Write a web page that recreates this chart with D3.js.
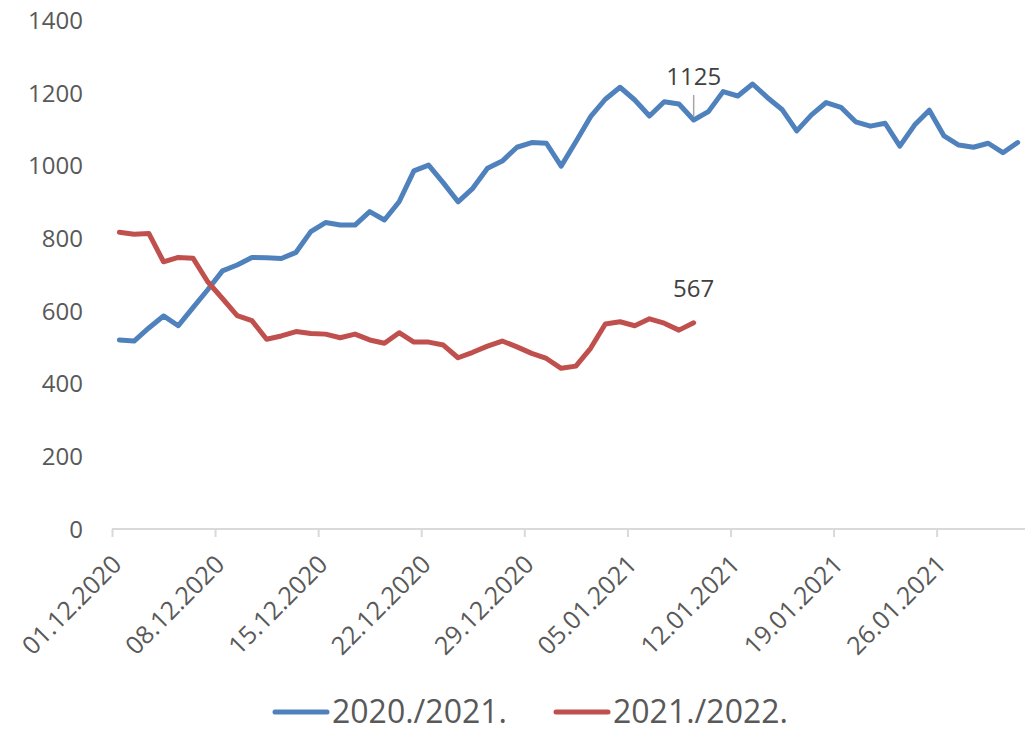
<!DOCTYPE html>
<html>
<head>
<meta charset="utf-8">
<script src="https://cdn.jsdelivr.net/npm/d3@7"></script>
<style>
  html, body { margin: 0; padding: 0; background: #ffffff; }
  svg { display: block; font-family: "Open Sans", "Noto Sans", sans-serif; }
</style>
</head>
<body>
<svg id="chart" width="1026" height="731"></svg>
<script>
// ---- data ----
const startDate = "2020-12-01";
const dayCount = 62; // 01.12.2020 .. 31.01.2021
const series2020 = [520, 517, 553, 586, 559, 609, 658, 710, 726, 747, 746, 744, 761, 818, 843, 836, 836, 873, 850, 900,
  985, 1001, 952, 900, 937, 992, 1012, 1050, 1063, 1061, 998, 1065, 1134, 1182, 1215, 1180, 1136, 1175, 1169, 1125,
  1148, 1203, 1191, 1224, 1187, 1154, 1095, 1139, 1173, 1160, 1120, 1108, 1116, 1053, 1111, 1152, 1081, 1056, 1050, 1061,
  1035, 1063];
const series2021 = [816, 811, 813, 735, 747, 745, 680, 634, 587, 573, 522, 531, 543, 538, 536, 526, 536, 520, 511, 540,
  514, 514, 506, 471, 486, 503, 517, 501, 483, 469, 442, 448, 497, 564, 570, 559, 578, 566, 547, 567];
const seriesNames = ["2020./2021.", "2021./2022."];
const seriesColors = ["#4f81bd", "#c0504d"];
const xTickLabels = ["01.12.2020", "08.12.2020", "15.12.2020", "22.12.2020", "29.12.2020", "05.01.2021", "12.01.2021", "19.01.2021", "26.01.2021"];
const yTicks = [0, 200, 400, 600, 800, 1000, 1200, 1400];
const labelled = [{ series: 0, index: 39, text: "1125" }, { series: 1, index: 39, text: "567" }];

// ---- layout ----
const svg = d3.select("#chart");
const plotLeft = 112, plotRight = 1025, plotTop = 20, plotBottom = 529;

const x = d3.scaleLinear().domain([0, dayCount]).range([plotLeft, plotRight]);
const y = d3.scaleLinear().domain([0, 1400]).range([plotBottom, plotTop]);

const parse = d3.utcParse("%Y-%m-%d");
const fmt = d3.utcFormat("%d.%m.%Y");
const d0 = parse(startDate);
const dates = d3.utcDay.range(d0, d3.utcDay.offset(d0, dayCount));
const idxOf = lbl => dates.findIndex(d => fmt(d) === lbl);

// y axis labels
const yAxis = d3.axisLeft(y).tickValues(yTicks).tickSize(0).tickPadding(0).tickFormat(d3.format("d"));
const gy = svg.append("g").attr("transform", `translate(83,0)`).call(yAxis);
gy.select(".domain").remove();
gy.selectAll("text").attr("fill", "#595959").style("font-size", "24px")
  .style("font-family", "'Open Sans', sans-serif").attr("dy", "0.35em");

// x axis
const xAxis = d3.axisBottom(x).tickValues(xTickLabels.map(idxOf)).tickSize(8).tickFormat("");
const gx = svg.append("g").attr("transform", `translate(0,${plotBottom})`).call(xAxis);
gx.select(".domain").attr("stroke", "#d9d9d9").attr("stroke-width", 2).attr("d", `M${plotLeft},0H${plotRight}`);
gx.selectAll(".tick line").attr("stroke", "#d9d9d9").attr("stroke-width", 2);

svg.append("g").selectAll("text").data(xTickLabels).join("text")
  .attr("transform", d => `translate(${x(idxOf(d)) + 11},${plotBottom + 37}) rotate(-45)`)
  .attr("text-anchor", "end")
  .attr("fill", "#595959")
  .style("font-size", "25px")
  .text(d => d);

// lines
const line = d3.line().x((d, i) => x(i + 0.5)).y(d => y(d));
[series2020, series2021].forEach((s, k) => {
  svg.append("path").datum(s)
    .attr("fill", "none")
    .attr("stroke", seriesColors[k])
    .attr("stroke-width", 5)
    .attr("stroke-linejoin", "round")
    .attr("stroke-linecap", "round")
    .attr("d", line);
});

// data labels
const allSeries = [series2020, series2021];
labelled.forEach(l => {
  const px = x(l.index + 0.5), py = y(allSeries[l.series][l.index]);
  if (l.series === 0) {
    svg.append("line").attr("x1", px).attr("x2", px).attr("y1", py - 3).attr("y2", py - 25)
      .attr("stroke", "#a6a6a6").attr("stroke-width", 1.5);
    svg.append("text").attr("x", px).attr("y", py - 35).attr("text-anchor", "middle")
      .attr("fill", "#404040").style("font-size", "24px").text(l.text);
  } else {
    svg.append("text").attr("x", px).attr("y", py - 26).attr("text-anchor", "middle")
      .attr("fill", "#404040").style("font-size", "24px").text(l.text);
  }
});

// legend
const legendX = [273, 554];
seriesNames.forEach((n, k) => {
  const g = svg.append("g").attr("transform", `translate(${legendX[k]},712)`);
  g.append("line").attr("x1", 2).attr("x2", 54).attr("y1", 0).attr("y2", 0)
    .attr("stroke", seriesColors[k]).attr("stroke-width", 5).attr("stroke-linecap", "round");
  g.append("text").attr("x", 59).attr("y", 11).attr("fill", "#595959")
    .style("font-size", "32px").text(n);
});
</script>
</body>
</html>
